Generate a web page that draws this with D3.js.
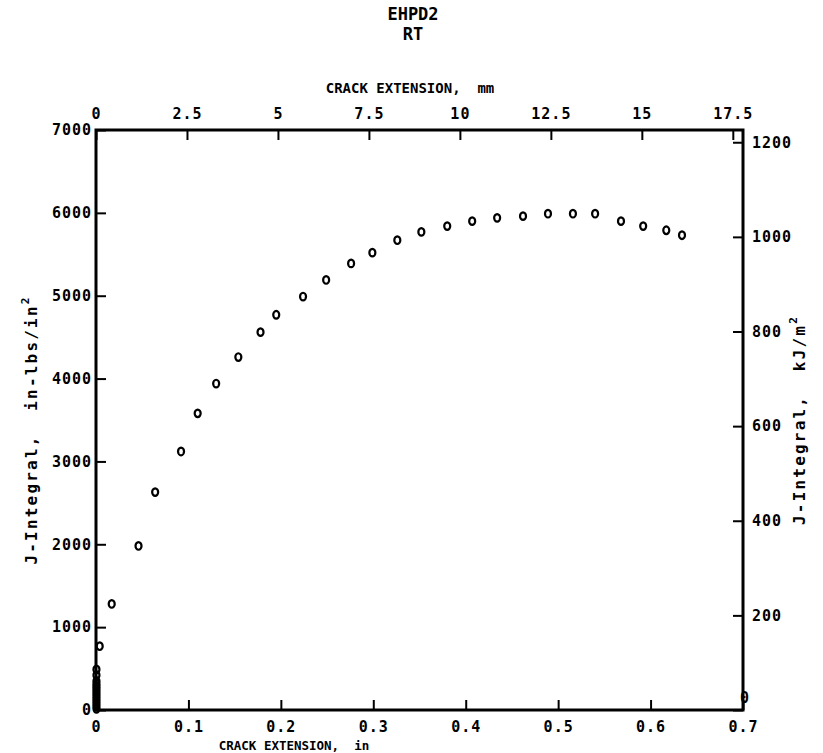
<!DOCTYPE html>
<html>
<head>
<meta charset="utf-8">
<script src="https://cdn.jsdelivr.net/npm/d3@7"></script>
<style>
  body { margin: 0; background: #fff; }
  svg { display: block; }
  .tick text, .lbl { font-family: "DejaVu Sans Mono", monospace; font-weight: bold; fill: #000; }
</style>
</head>
<body>
<svg id="chart" width="823" height="753"></svg>
<script>
// crack extension (in) and J-integral (in-lbs/in^2)
var crackIn = [
    0.0005, 0.0005, 0.0005, 0.0005, 0.0005, 0.0005, 0.0005, 0.0005, 0.0005, 0.0005,
    0.0005, 0.0005, 0.0005, 0.0005,
    0.004, 0.017, 0.046, 0.064, 0.092, 0.110, 0.130, 0.154, 0.178, 0.195,
    0.224, 0.249, 0.276, 0.299, 0.326, 0.352, 0.380, 0.407, 0.434, 0.462,
    0.489, 0.516, 0.540, 0.568, 0.592, 0.617, 0.634
];
var jIntegral = [
    15, 45, 75, 105, 135, 165, 195, 225, 255, 285,
    315, 350, 420, 490,
    770, 1280, 1980, 2630, 3120, 3580, 3940, 4260, 4560, 4770,
    4990, 5190, 5390, 5520, 5670, 5770, 5840, 5900, 5940, 5960,
    5990, 5990, 5990, 5900, 5840, 5790, 5730
];

var xTicksIn = [0, 0.1, 0.2, 0.3, 0.4, 0.5, 0.6, 0.7];
var xTicksMm = [0, 2.5, 5, 7.5, 10, 12.5, 15, 17.5];
var yTicksIn = [0, 1000, 2000, 3000, 4000, 5000, 6000, 7000];
var yTicksKj = [0, 200, 400, 600, 800, 1000, 1200];

(function() {
"use strict";

var IN_TO_MM = 25.4;
var INLB_TO_KJ = 0.175127;   // 1 in-lb/in^2 in kJ/m^2

var svg = d3.select('#chart');
var plotLeft = 96, plotRight = 743, plotTop = 130, plotBottom = 710;

var x = d3.scaleLinear().domain([0, 0.7]).range([plotLeft, plotRight]);
var xMm = d3.scaleLinear().domain([0, 0.7 * IN_TO_MM]).range([plotLeft, plotRight]);
var y = d3.scaleLinear().domain([0, 7000]).range([plotBottom, plotTop]);
var yKj = d3.scaleLinear().domain([0, 7000 * INLB_TO_KJ]).range([plotBottom, plotTop]);

svg.append('rect').attr('width', 823).attr('height', 753).attr('fill', '#fff');

function styleAxis(g) {
    g.select('.domain').remove();
    g.selectAll('.tick line').attr('stroke', '#000').attr('stroke-width', 2);
    g.selectAll('.tick text')
        .attr('font-size', 15)
        .attr('letter-spacing', 1);
}

var fmt = function(d) { return String(d); };

svg.append('g')
    .attr('transform', 'translate(0,' + plotBottom + ')')
    .call(d3.axisBottom(x).tickValues(xTicksIn).tickFormat(fmt).tickSizeInner(-10).tickSizeOuter(0).tickPadding(11))
    .call(styleAxis);

svg.append('g')
    .attr('transform', 'translate(0,' + plotTop + ')')
    .call(d3.axisTop(xMm).tickValues(xTicksMm).tickFormat(fmt).tickSizeInner(-10).tickSizeOuter(0).tickPadding(11))
    .call(styleAxis);

svg.append('g')
    .attr('transform', 'translate(' + plotLeft + ',0)')
    .call(d3.axisLeft(y).tickValues(yTicksIn).tickFormat(fmt).tickSizeInner(-10).tickSizeOuter(0).tickPadding(4))
    .call(styleAxis);

var rightAxis = svg.append('g')
    .attr('transform', 'translate(' + plotRight + ',0)')
    .call(d3.axisRight(yKj).tickValues(yTicksKj).tickFormat(fmt).tickSizeInner(-10).tickSizeOuter(0).tickPadding(9))
    .call(styleAxis);
rightAxis.selectAll('.tick').filter(function(d) { return d === 0; })
    .select('text').attr('x', -3).attr('dy', '-0.5em');

// the frame
svg.append('rect')
    .attr('x', plotLeft).attr('y', plotTop)
    .attr('width', plotRight - plotLeft).attr('height', plotBottom - plotTop)
    .attr('fill', 'none').attr('stroke', '#000').attr('stroke-width', 3);

// points
var pts = d3.zip(crackIn, jIntegral);
svg.append('g').selectAll('ellipse').data(pts).enter()
    .append('ellipse')
        .attr('cx', function(d) { return x(d[0]); })
        .attr('cy', function(d) { return y(d[1]); })
        .attr('rx', 3)
        .attr('ry', 3.8)
        .attr('fill', 'none')
        .attr('stroke', '#000')
        .attr('stroke-width', 2.2);

// titles
svg.append('text').attr('class', 'lbl')
    .attr('x', 413).attr('y', 19.5)
    .attr('text-anchor', 'middle').attr('font-size', 17)
    .text('EHPD2');
svg.append('text').attr('class', 'lbl')
    .attr('x', 413).attr('y', 40)
    .attr('text-anchor', 'middle').attr('font-size', 17)
    .text('RT');

svg.append('text').attr('class', 'lbl')
    .attr('x', 410).attr('y', 93)
    .attr('text-anchor', 'middle').attr('font-size', 14)
    .attr('xml:space', 'preserve')
    .text('CRACK EXTENSION,  mm');

svg.append('text').attr('class', 'lbl')
    .attr('x', 294).attr('y', 750)
    .attr('text-anchor', 'middle').attr('font-size', 12.5)
    .attr('xml:space', 'preserve')
    .text('CRACK EXTENSION,  in');

function yTitle(cx, cy, main) {
    var t = svg.append('text').attr('class', 'lbl')
        .attr('transform', 'translate(' + cx + ',' + cy + ') rotate(-90)')
        .attr('text-anchor', 'middle').attr('font-size', 16)
        .attr('letter-spacing', 2.2)
        .attr('xml:space', 'preserve');
    t.append('tspan').text(main);
    t.append('tspan').attr('font-size', 11).attr('dy', -8).text('2');
}
yTitle(37, 430, 'J-Integral,  in-lbs/in');
yTitle(805, 420, 'J-Integral,  kJ/m');

}());
</script>
</body>
</html>
